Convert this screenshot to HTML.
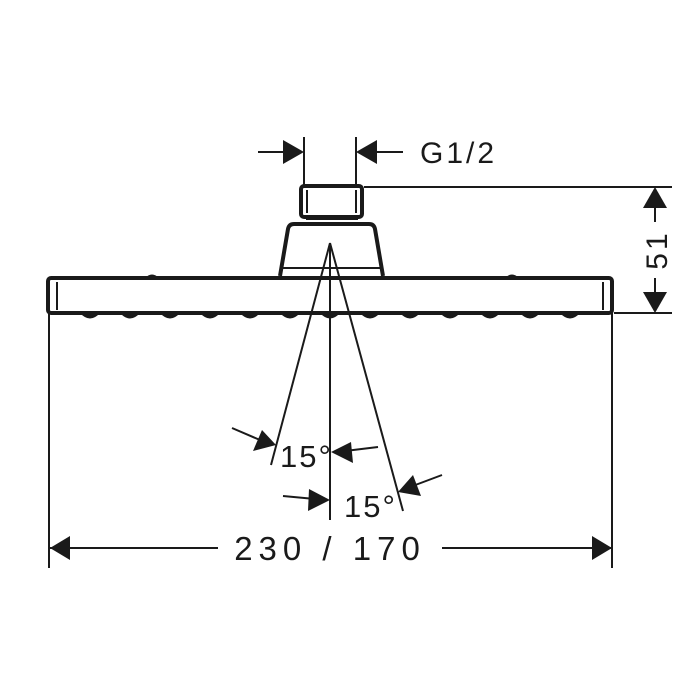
<!DOCTYPE html>
<html><head><style>body{margin:0;background:#fff}svg{display:block}text{font-family:"Liberation Sans",sans-serif;fill:#1a1a1a}</style></head>
<body>
<svg width="700" height="700" viewBox="0 0 700 700" xmlns="http://www.w3.org/2000/svg">
<g stroke="#1a1a1a" fill="none" stroke-width="2">
<rect x="301" y="186" width="61" height="31" rx="3" stroke-width="4"/>
<line x1="307" y1="190" x2="307" y2="213"/><line x1="356" y1="190" x2="356" y2="213"/>
<line x1="306" y1="219" x2="358" y2="219"/>
<path d="M280 276 L288 229 Q289 224 294 224 L369 224 Q374 224 375 229 L383 276" stroke-width="4"/>
<line x1="282" y1="268" x2="381" y2="268"/>
<rect x="48" y="278" width="564" height="35" rx="3" stroke-width="4"/>
<line x1="57" y1="282" x2="57" y2="310"/><line x1="603" y1="282" x2="603" y2="310"/>
</g>
<g fill="#1a1a1a">
<path d="M80 313 Q90 324 100 313Z"/><path d="M120 313 Q130 324 140 313Z"/><path d="M160 313 Q170 324 180 313Z"/><path d="M200 313 Q210 324 220 313Z"/><path d="M240 313 Q250 324 260 313Z"/><path d="M280 313 Q290 324 300 313Z"/><path d="M320 313 Q330 324 340 313Z"/><path d="M360 313 Q370 324 380 313Z"/><path d="M400 313 Q410 324 420 313Z"/><path d="M440 313 Q450 324 460 313Z"/><path d="M480 313 Q490 324 500 313Z"/><path d="M520 313 Q530 324 540 313Z"/><path d="M560 313 Q570 324 580 313Z"/>
<path d="M145 278 Q152 271 159 278Z"/><path d="M505 278 Q512 271 519 278Z"/>
</g>
<g stroke="#1a1a1a" fill="none" stroke-width="2">
<line x1="330" y1="243" x2="330" y2="520"/>
<line x1="330" y1="243" x2="271" y2="465"/>
<line x1="330" y1="243" x2="403" y2="511"/>
<line x1="49" y1="313" x2="49" y2="568"/><line x1="612" y1="313" x2="612" y2="568"/>
<line x1="50" y1="548" x2="218" y2="548"/><line x1="442" y1="548" x2="612" y2="548"/>
<line x1="304" y1="137" x2="304" y2="186"/><line x1="356" y1="137" x2="356" y2="186"/>
<line x1="258" y1="152" x2="300" y2="152"/><line x1="360" y1="152" x2="403" y2="152"/>
<line x1="364" y1="187" x2="672" y2="187"/><line x1="614" y1="313" x2="672" y2="313"/>
<line x1="655" y1="205" x2="655" y2="222"/><line x1="655" y1="278" x2="655" y2="295"/>
<line x1="232" y1="428" x2="260" y2="440"/><line x1="378" y1="447" x2="345" y2="451"/>
<line x1="283" y1="496" x2="315" y2="499"/><line x1="442" y1="475" x2="410" y2="487"/>
</g>
<g fill="#1a1a1a">
<path d="M50 548 L70 536 L70 560Z"/><path d="M612 548 L592 536 L592 560Z"/>
<path d="M304 152 L283 140 L283 164Z"/><path d="M356 152 L377 140 L377 164Z"/>
<path d="M655 187 L643 208 L667 208Z"/><path d="M655 313 L643 292 L667 292Z"/>
<path d="M276 445 L253 451 L262 430Z"/>
<path d="M331 452 L351 442 L353 463Z"/>
<path d="M330 500 L309 489 L308 511Z"/>
<path d="M398 492 L413 475 L421 496Z"/>
</g>
<text x="420" y="163" font-size="30" letter-spacing="3">G1/2</text>
<text x="330" y="560" font-size="33" letter-spacing="6" text-anchor="middle">230 / 170</text>
<text transform="translate(667,250) rotate(-90)" font-size="30" letter-spacing="3" text-anchor="middle">51</text>
<text x="280" y="467" font-size="31" letter-spacing="2">15°</text>
<text x="344" y="517" font-size="31" letter-spacing="2">15°</text>
</svg>
</body></html>
